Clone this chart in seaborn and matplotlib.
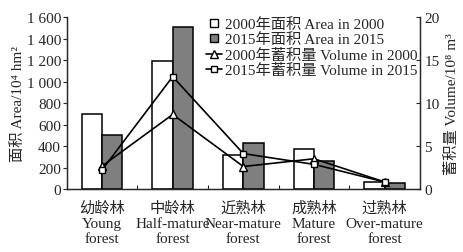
import pandas as pd
import matplotlib.pyplot as plt
import seaborn as sns
from matplotlib.lines import Line2D
from matplotlib.ticker import FixedLocator, FuncFormatter

# 数据
categories = ["幼龄林\nYoung\nforest", "中龄林\nHalf-mature\nforest", "近熟林\nNear-mature\nforest",
              "成熟林\nMature\nforest", "过熟林\nOver-mature\nforest"]
area_2000 = [705, 1190, 322, 375, 65]
area_2015 = [505, 1510, 430, 265, 58]
volume_2000 = [2.7, 8.7, 2.65, 3.55, 0.85]
volume_2015 = [2.25, 13.1, 4.15, 2.9, 0.85]

lab_a2000 = "2000年面积 Area in 2000"
lab_a2015 = "2015年面积 Area in 2015"
lab_v2000 = "2000年蓄积量 Volume in 2000"
lab_v2015 = "2015年蓄积量 Volume in 2015"


def main():
    sns.set_theme(style="ticks")
    plt.rcParams["font.family"] = ["Liberation Serif", "Noto Sans CJK SC", "DejaVu Serif"]
    plt.rcParams["font.size"] = 11

    df = pd.DataFrame({
        "cat": categories * 2,
        "area": area_2000 + area_2015,
        "year": ["2000"] * len(categories) + ["2015"] * len(categories),
    })

    fig = plt.figure(figsize=(4.64, 2.53), dpi=100)
    ax = fig.add_axes([0.1437, 0.2478, 0.9052 - 0.1437, 0.9277 - 0.2478])

    sns.barplot(data=df, x="cat", y="area", hue="year", order=categories,
                palette=["white", "#7f7f7f"], edgecolor="black", linewidth=1.1,
                width=0.575, saturation=1, ax=ax, legend=False)
    ax.set_xlim(-0.5, len(categories) - 0.5)
    ax.set_ylim(0, 1600)
    ax.set_yticks(range(0, 1601, 200))
    ax.yaxis.set_major_formatter(FuncFormatter(lambda v, p: f"{int(v):,}".replace(",", " ")))
    ax.set_xlabel("")
    ax.set_ylabel("面积 Area/10⁴ hm²", fontsize=11, labelpad=1)
    ax.tick_params(axis="y", direction="out", length=3, width=0.8, pad=1, labelsize=11)
    ax.tick_params(axis="x", which="major", length=0, pad=8, labelsize=11)
    ax.xaxis.set_minor_locator(FixedLocator([0.5, 1.5, 2.5, 3.5]))
    ax.tick_params(axis="x", which="minor", direction="in", length=3, width=0.8)
    for t in ax.get_xticklabels():
        t.set_linespacing(1.2)
    ax.spines["top"].set_visible(False)

    ax2 = ax.twinx()
    idx = list(range(len(categories)))
    sns.lineplot(x=idx, y=volume_2000, color="black", linewidth=1.2, marker="^",
                 markersize=6, markerfacecolor="white", markeredgecolor="black",
                 markeredgewidth=1.0, ax=ax2)
    sns.lineplot(x=idx, y=volume_2015, color="black", linewidth=1.2, marker="s",
                 markersize=5, markerfacecolor="white", markeredgecolor="black",
                 markeredgewidth=1.0, ax=ax2)
    ax2.set_ylim(0, 20)
    ax2.set_yticks([0, 5, 10, 15, 20])
    ax2.set_ylabel("蓄积量 Volume/10⁸ m³", fontsize=11, labelpad=4)
    ax2.tick_params(axis="y", direction="in", length=3, width=0.8, pad=3, labelsize=11)
    ax2.spines["top"].set_visible(False)
    for sp in ["left", "right", "bottom"]:
        ax.spines[sp].set_linewidth(0.9)
        ax2.spines[sp].set_linewidth(0.9)

    handles = [
        Line2D([], [], linestyle="none", marker="s", markersize=5.5, markerfacecolor="white",
               markeredgecolor="black", markeredgewidth=1.0),
        Line2D([], [], linestyle="none", marker="s", markersize=5.5, markerfacecolor="#7f7f7f",
               markeredgecolor="black", markeredgewidth=1.0),
        Line2D([], [], color="black", linewidth=1.2, marker="^", markersize=5.5,
               markerfacecolor="white", markeredgecolor="black"),
        Line2D([], [], color="black", linewidth=1.2, marker="s", markersize=5,
               markerfacecolor="white", markeredgecolor="black"),
    ]
    ax2.legend(handles, [lab_a2000, lab_a2015, lab_v2000, lab_v2015],
               loc="upper right", bbox_to_anchor=(1.02, 1.055), frameon=False,
               fontsize=11, handlelength=1.1, handletextpad=0.2, labelspacing=0.1,
               borderaxespad=0.2)

    fig.savefig("out.png", dpi=100)
    plt.close(fig)


if __name__ == "__main__":
    main()
